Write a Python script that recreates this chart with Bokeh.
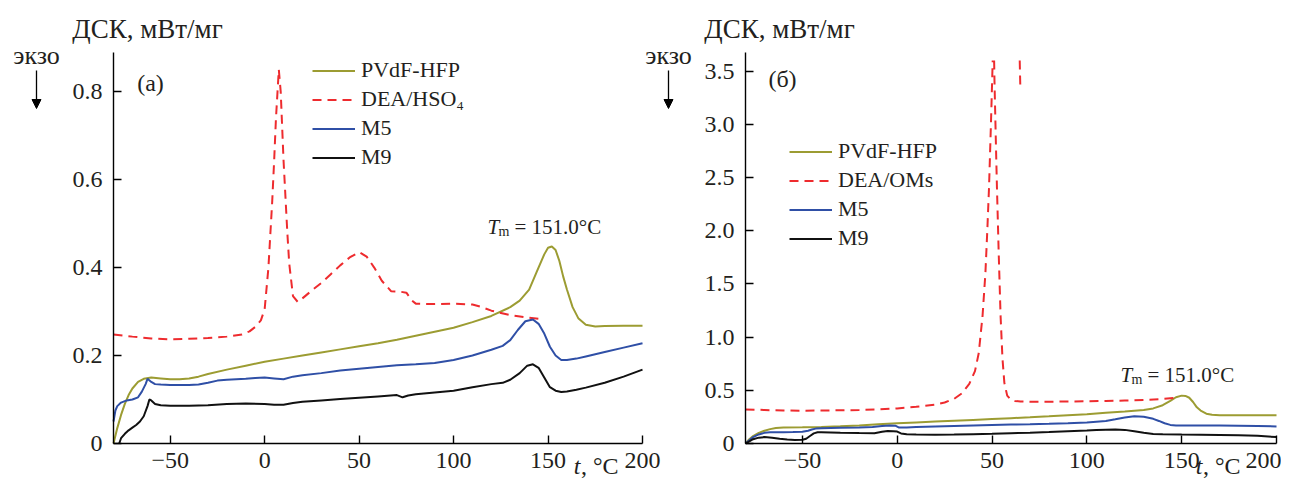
import math
from bokeh.plotting import figure
from bokeh.models import (Range1d, FixedTicker, Label, Legend, LegendItem, Arrow, NormalHead, LinearAxis)
from bokeh.embed import file_html
from bokeh.resources import INLINE

# ---------------- data: panel (a) ----------------
pvdf_a_t = [-80, -78, -76, -74, -72, -70, -67, -64, -60, -55, -50, -45, -40, -35, -30, -20, -10, 0, 10, 20, 30, 40,
            50, 60, 70, 80, 90, 100, 110, 120, 130, 135, 140, 144, 148, 150, 152, 154, 156, 158, 160, 163, 166, 170,
            175, 180, 190, 200]
pvdf_a_y = [0, 0.035, 0.065, 0.09, 0.11, 0.125, 0.14, 0.147, 0.15, 0.148, 0.146, 0.146, 0.148, 0.152, 0.158, 0.168,
            0.177, 0.186, 0.193, 0.2, 0.207, 0.214, 0.221, 0.228, 0.236, 0.245, 0.254, 0.263, 0.276, 0.29, 0.31, 0.325,
            0.35, 0.39, 0.43, 0.445, 0.448, 0.44, 0.415, 0.38, 0.35, 0.31, 0.285, 0.27, 0.266, 0.267, 0.268, 0.268]

dea_a_t = [-80, -70, -60, -50, -40, -30, -20, -12, -8, -5, -2, 0, 2, 4, 5, 6, 7.5, 8.5, 10, 12, 13, 15, 17.5, 20, 25,
           30, 35, 40, 45, 50, 54, 58, 62, 67, 72, 75, 78, 80, 90, 100, 110, 115, 120, 130, 140, 148]
dea_a_y = [0.248, 0.243, 0.239, 0.237, 0.238, 0.24, 0.243, 0.248, 0.255, 0.265, 0.28, 0.305, 0.4, 0.55, 0.64, 0.74,
           0.85, 0.8, 0.644, 0.48, 0.41, 0.335, 0.322, 0.33, 0.348, 0.365, 0.385, 0.405, 0.423, 0.435, 0.425, 0.4,
           0.37, 0.346, 0.345, 0.343, 0.325, 0.318, 0.317, 0.318, 0.316, 0.31, 0.302, 0.292, 0.286, 0.282]

m5_a_t = [-80, -79, -78, -76, -73, -70, -67, -65, -63, -62, -60, -58, -55, -50, -40, -35, -30, -25, -20, -15, -10, -5,
          0, 5, 10, 15, 20, 30, 40, 50, 60, 70, 80, 90, 100, 110, 120, 126, 130, 134, 138, 142, 145, 148, 151, 154, 157,
          160, 165, 170, 180, 190, 200]
m5_a_y = [0.05, 0.075, 0.085, 0.093, 0.098, 0.1, 0.105, 0.118, 0.135, 0.147, 0.14, 0.135, 0.134, 0.133, 0.133, 0.134,
          0.138, 0.143, 0.145, 0.146, 0.147, 0.149, 0.15, 0.148, 0.146, 0.152, 0.155, 0.16, 0.166, 0.17, 0.174, 0.178,
          0.18, 0.183, 0.19, 0.2, 0.213, 0.222, 0.235, 0.258, 0.278, 0.282, 0.272, 0.25, 0.22, 0.2, 0.19, 0.19, 0.193,
          0.198, 0.208, 0.218, 0.228]

m9_a_t = [-77, -76, -74, -72, -70, -68, -66, -64, -62, -61, -60, -58, -55, -50, -40, -30, -20, -10, 0, 5, 10, 15, 20,
          30, 40, 50, 60, 70, 73, 76, 80, 90, 100, 110, 120, 126, 130, 135, 139, 142, 145, 148, 151, 154, 157, 160, 165,
          170, 180, 190, 200]
m9_a_y = [0, 0.012, 0.022, 0.03, 0.036, 0.042, 0.05, 0.062, 0.085, 0.1, 0.098, 0.09, 0.087, 0.086, 0.086, 0.087, 0.09,
          0.091, 0.09, 0.088, 0.088, 0.092, 0.095, 0.098, 0.101, 0.104, 0.107, 0.11, 0.105, 0.109, 0.112, 0.116, 0.12,
          0.128, 0.135, 0.138, 0.145, 0.16, 0.177, 0.18, 0.172, 0.15, 0.128, 0.12, 0.117, 0.118, 0.122, 0.127, 0.138,
          0.152, 0.168]

# ---------------- data: panel (б) ----------------
pvdf_b_t = [-80, -78, -76, -73, -70, -67, -64, -60, -50, -40, -30, -20, -10, 0, 10, 20, 30, 40, 50, 60, 70, 80, 90,
            100, 110, 120, 130, 135, 140, 144, 147, 150, 152, 154, 156, 158, 160, 163, 166, 170, 180, 190, 200]
pvdf_b_y = [0, 0.04, 0.07, 0.1, 0.12, 0.135, 0.145, 0.15, 0.152, 0.155, 0.162, 0.17, 0.18, 0.19, 0.198, 0.206, 0.214,
            0.222, 0.23, 0.238, 0.246, 0.255, 0.265, 0.275, 0.288, 0.3, 0.315, 0.33, 0.36, 0.4, 0.435, 0.45, 0.447,
            0.43, 0.39, 0.34, 0.31, 0.28, 0.27, 0.265, 0.265, 0.265, 0.265]

dea_b_t = [-80, -70, -60, -50, -40, -30, -20, -10, 0, 10, 20, 25, 30, 34, 38, 41, 43, 45, 46.5, 47.5, 48.4, 49.5, 50.3,
           50.8, 51.3, 52, 52.6, 53.5, 54.5, 55.5, 56.5, 58, 60, 62, 65, 70, 80, 90, 100, 110, 120, 130, 140, 147]
dea_b_y = [0.32, 0.315, 0.31, 0.308, 0.31, 0.312, 0.315, 0.32, 0.33, 0.345, 0.365, 0.385, 0.42, 0.47, 0.56, 0.68, 0.85,
           1.2, 1.6, 2.0, 2.4, 3.05, 3.57, 3.9, 3.4, 2.85, 2.4, 1.8, 1.2, 0.8, 0.57, 0.45, 0.41, 0.4, 0.395, 0.393,
           0.393, 0.395, 0.397, 0.4, 0.404, 0.408, 0.418, 0.43]
dea_b_tail_t = [64.6, 64.9]
dea_b_tail_y = [3.6, 3.36]
dea_b_cut = 3.6   # the trace is cut off at this level in the source figure

m5_b_t = [-80, -78, -76, -73, -70, -67, -60, -55, -50, -47, -45, -43, -40, -30, -20, -13, -8, -4, -1, 1, 5, 10, 20, 30,
          40, 50, 60, 70, 80, 90, 100, 110, 115, 120, 125, 130, 135, 138, 141, 144, 147, 150, 160, 170, 180, 190, 200]
m5_b_y = [0, 0.03, 0.06, 0.085, 0.1, 0.105, 0.106, 0.107, 0.11, 0.12, 0.132, 0.14, 0.143, 0.147, 0.15, 0.155, 0.165,
          0.17, 0.168, 0.15, 0.15, 0.155, 0.16, 0.165, 0.17, 0.175, 0.178, 0.181, 0.185, 0.19, 0.197, 0.212, 0.228,
          0.245, 0.257, 0.252, 0.232, 0.212, 0.19, 0.175, 0.17, 0.17, 0.17, 0.17, 0.168, 0.165, 0.16]

m9_b_t = [-80, -78, -76, -73, -70, -66, -62, -58, -54, -50, -48, -46, -44, -42, -40, -30, -20, -12, -8, -5, -2, 0, 2,
          5, 10, 20, 30, 40, 50, 60, 70, 80, 90, 100, 105, 110, 115, 120, 125, 130, 135, 140, 150, 160, 170, 180, 190,
          200]
m9_b_y = [0, 0.02, 0.04, 0.055, 0.06, 0.055, 0.045, 0.038, 0.034, 0.035, 0.045, 0.07, 0.095, 0.105, 0.105, 0.1, 0.098,
          0.097, 0.11, 0.118, 0.115, 0.112, 0.095, 0.088, 0.085, 0.083, 0.084, 0.088, 0.092, 0.097, 0.102, 0.108, 0.115,
          0.122, 0.127, 0.13, 0.132, 0.128, 0.115, 0.1, 0.09, 0.088, 0.085, 0.083, 0.08, 0.077, 0.072, 0.06]

x_lim = (-80, 200)
ya_lim = (0, 0.889)
yb_lim = (0, 3.675)
x_ticks = [-50, 0, 50, 100, 150, 200]
x_tick_labels = ["\u221250", "0", "50", "100", "150", "200"]
ya_ticks = [0, 0.2, 0.4, 0.6, 0.8]
ya_tick_labels = ["0", "0.2", "0.4", "0.6", "0.8"]
yb_ticks = [0, 0.5, 1.0, 1.5, 2.0, 2.5, 3.0, 3.5]
yb_tick_labels = ["0", "0.5", "1.0", "1.5", "2.0", "2.5", "3.0", "3.5"]

names_a = ["PVdF-HFP", "DEA/HSO\u2084", "M5", "M9"]
names_b = ["PVdF-HFP", "DEA/OMs", "M5", "M9"]

# ---------------- layout (pixels) ----------------
W, H = 1281, 481
FRAME_TOP, FRAME_BOTTOM = 52, 443
A_LEFT, A_RIGHT = 113, 642
B_LEFT, B_RIGHT = 745, 1276

OLIVE = "#9c9c32"
RED = "#ee2b2e"
BLUE = "#2f4fa6"
BLACK = "#111111"
FONT = "Liberation Serif"
TXT = "#231f20"


def span(lo, hi, p_lo, p_hi, total):
    k = (hi - lo) / (p_hi - p_lo)
    return Range1d(lo - p_lo * k, hi + (total - p_hi) * k)


def cut_above(ts, ys, top):
    out_t, out_y = [], []
    for i in range(len(ts)):
        if i > 0:
            t0, y0, t1, y1 = ts[i - 1], ys[i - 1], ts[i], ys[i]
            if (y0 <= top) != (y1 <= top):
                tc = t0 + (top - y0) * (t1 - t0) / (y1 - y0)
                out_t.append(tc)
                out_y.append(top)
                if y1 > top:
                    out_t.append(math.nan)
                    out_y.append(math.nan)
        if ys[i] <= top:
            out_t.append(ts[i])
            out_y.append(ys[i])
    return out_t, out_y


p = figure(width=W, height=H, output_backend="svg", toolbar_location=None,
           x_range=span(x_lim[0], x_lim[1], A_LEFT, A_RIGHT, W),
           y_range=span(ya_lim[0], ya_lim[1], H - FRAME_BOTTOM, H - FRAME_TOP, H),
           x_axis_location=None, y_axis_location=None, min_border=0)
p.extra_x_ranges = {"b": span(x_lim[0], x_lim[1], B_LEFT, B_RIGHT, W)}
p.extra_y_ranges = {"b": span(yb_lim[0], yb_lim[1], H - FRAME_BOTTOM, H - FRAME_TOP, H)}
p.outline_line_color = None
p.xgrid.visible = False
p.ygrid.visible = False


def style_axis(ax):
    ax.axis_line_width = 1.4
    ax.axis_line_color = "black"
    ax.major_tick_line_width = 1.4
    ax.major_tick_line_color = "black"
    ax.major_tick_in = 8
    ax.major_tick_out = 0
    ax.minor_tick_line_color = None
    ax.major_label_text_font = FONT
    ax.major_label_text_font_size = "24px"
    ax.major_label_text_color = TXT


for rn, ticks, labels, ylim in (("default", ya_ticks, ya_tick_labels, ya_lim), ("b", yb_ticks, yb_tick_labels, yb_lim)):
    xa = LinearAxis(x_range_name=rn, y_range_name=rn, fixed_location=ylim[0], bounds=x_lim,
                    ticker=FixedTicker(ticks=x_ticks),
                    major_label_overrides={t: l for t, l in zip(x_ticks, x_tick_labels)})
    xa.major_label_standoff = 9
    style_axis(xa)
    p.add_layout(xa, "below")
    ya = LinearAxis(x_range_name=rn, y_range_name=rn, fixed_location=x_lim[0], bounds=ylim,
                    ticker=FixedTicker(ticks=ticks),
                    major_label_overrides={t: l for t, l in zip(ticks, labels)})
    ya.major_label_standoff = 11
    style_axis(ya)
    p.add_layout(ya, "left")

dea_b_tc, dea_b_yc = cut_above(dea_b_t, dea_b_y, dea_b_cut)

series_a = [(pvdf_a_t, pvdf_a_y, OLIVE, "solid"), (dea_a_t, dea_a_y, RED, "9 6"),
            (m5_a_t, m5_a_y, BLUE, "solid"), (m9_a_t, m9_a_y, BLACK, "solid")]
series_b = [(pvdf_b_t, pvdf_b_y, OLIVE, "solid"), (dea_b_tc, dea_b_yc, RED, "9 6"),
            (m5_b_t, m5_b_y, BLUE, "solid"), (m9_b_t, m9_b_y, BLACK, "solid")]


def add_series(series, names, rn, leg_x, leg_top):
    items = []
    for (t, y, color, dash), name in zip(series, names):
        r = p.line(t, y, line_color=color, line_width=2, line_dash=dash, x_range_name=rn, y_range_name=rn)
        items.append(LegendItem(label=name, renderers=[r]))
    leg = Legend(items=items, location=(leg_x, H - (leg_top + 4 * 29)), border_line_color=None,
                 background_fill_alpha=0, padding=0, margin=0, spacing=0, glyph_width=43, glyph_height=29,
                 label_height=29, label_standoff=6, label_text_font=FONT, label_text_font_size="22px",
                 label_text_color=TXT)
    p.add_layout(leg)


add_series(series_a, names_a, "default", 312, 55.5)
add_series(series_b, names_b, "b", 789, 136.5)
p.line(dea_b_tail_t, dea_b_tail_y, line_color=RED, line_width=2, line_dash="9 6", x_range_name="b", y_range_name="b")


def lab(x, y, text, size="24px", style="normal", align="left"):
    # x, y: pixel position from the top-left corner of the canvas
    p.add_layout(Label(x=x, y=H - y, x_units="screen", y_units="screen", text=text, text_font=FONT,
                       text_font_size=size, text_font_style=style, text_align=align,
                       text_baseline="middle", text_color=TXT))


def arrow(x, y0, y1):
    p.add_layout(Arrow(end=NormalHead(size=9, fill_color="black", line_color="black"),
                       x_start=x, y_start=H - y0, x_end=x, y_end=H - y1,
                       start_units="screen", end_units="screen", line_width=1.3, line_color="black"))


def tm(x, y):
    lab(x, y, "T", size="21px", style="italic")
    lab(x + 11, y + 5, "m", size="14px")
    lab(x + 27, y, "= 151.0°C", size="21px")


for cx, letter, ly, ux in ((0, "(a)", 82, 618), (632, "(б)", 78, 1240)):
    lab(147 + cx, 28, "ДСК, мВт/мг", size="27px", align="center")
    lab(36 + cx, 55, "экзо", size="26px", align="center")
    arrow(36 + cx, 70, 108)
    lab(150 + cx, ly, letter, size="24px", align="center")
    lab(ux, 465, ", °C", size="24px", align="right")
    lab(ux - 38, 465, "t", size="24px", style="italic", align="right")

tm(487, 226)
tm(1120, 374)

open("out.html", "w").write(file_html(p, INLINE))
